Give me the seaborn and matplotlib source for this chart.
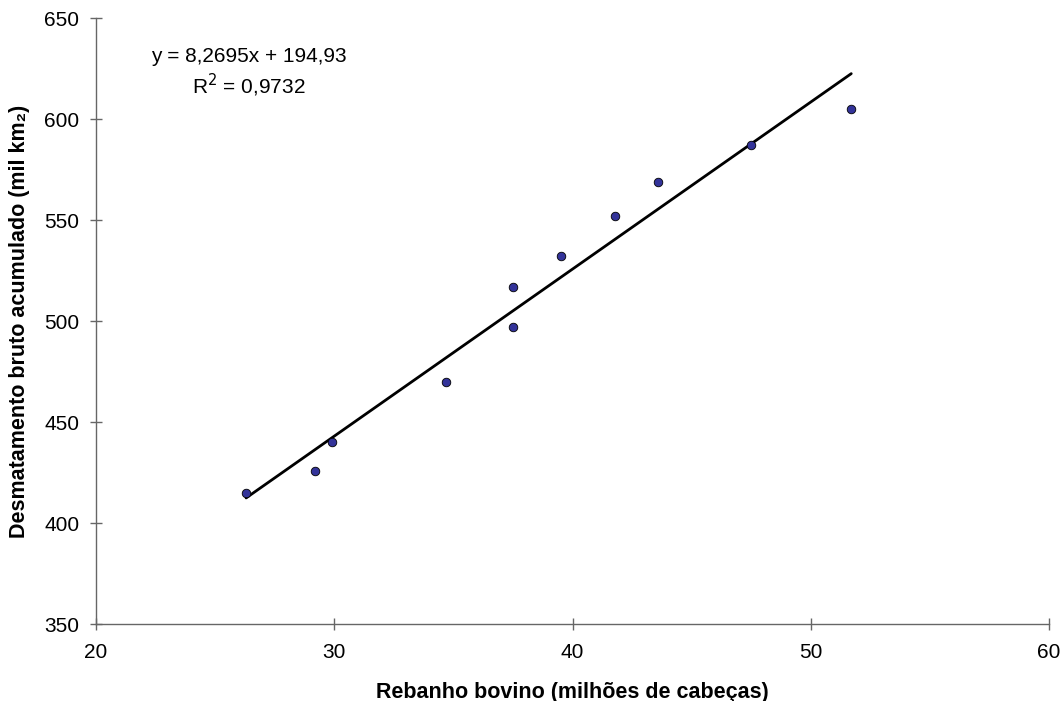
import numpy as np
import pandas as pd
import matplotlib
matplotlib.use("Agg")
import matplotlib.pyplot as plt
import seaborn as sns

# Dados
rebanho = [26.3, 29.2, 29.9, 34.7, 37.5, 37.5, 39.5, 41.8, 43.6, 47.5, 51.7]
desmatamento = [415, 426, 440, 470, 497, 517, 532, 552, 569, 587, 605]
inclinacao = 8.2695
intercepto = 194.93
r2_texto = "0,9732"

df = pd.DataFrame({"x": rebanho, "y": desmatamento})
x_linha = np.array([min(rebanho), max(rebanho)])
df_linha = pd.DataFrame({"x": x_linha, "y": inclinacao * x_linha + intercepto})

sns.set_style("white")
plt.rcParams["font.family"] = ["Liberation Sans", "DejaVu Sans"]
plt.rcParams["text.color"] = "black"
plt.rcParams["axes.labelcolor"] = "black"
plt.rcParams["xtick.color"] = "black"
plt.rcParams["ytick.color"] = "black"

fig, ax = plt.subplots(figsize=(10.61, 7.01), dpi=100)
fig.subplots_adjust(left=0.0905, right=0.9887, top=0.9743, bottom=0.1098)

sns.lineplot(data=df_linha, x="x", y="y", color="black", linewidth=2, ax=ax)
sns.scatterplot(data=df, x="x", y="y", color="#333399", edgecolor="black",
                linewidth=0.6, s=38, ax=ax, zorder=3)

ax.set_xlim(20, 60)
ax.set_ylim(350, 650)
ax.set_xticks(range(20, 61, 10))
ax.set_yticks(range(350, 651, 50))
ax.tick_params(direction="inout", length=8, width=1, color="#666666",
               labelcolor="black", labelsize=15, left=True, bottom=True)
ax.tick_params(axis="y", pad=8)
ax.tick_params(axis="x", pad=10)
for lado in ["top", "right"]:
    ax.spines[lado].set_visible(False)
for lado in ["left", "bottom"]:
    ax.spines[lado].set_color("#666666")
    ax.spines[lado].set_linewidth(1)

ax.set_xlabel("Rebanho bovino (milhões de cabeças)", fontsize=15.5,
              fontweight="bold", labelpad=14)
ax.set_ylabel("Desmatamento bruto acumulado (mil km₂)", fontsize=15.5,
              fontweight="bold", labelpad=10)

ax.text(0.16, 0.937, f"y = {str(inclinacao).replace('.', ',')}x + {str(intercepto).replace('.', ',')}",
        transform=ax.transAxes, ha="center", va="center", fontsize=15)
ax.text(0.16, 0.889, f"R$^2$ = {r2_texto}", transform=ax.transAxes,
        ha="center", va="center", fontsize=15)

fig.savefig("out.png", dpi=100)
